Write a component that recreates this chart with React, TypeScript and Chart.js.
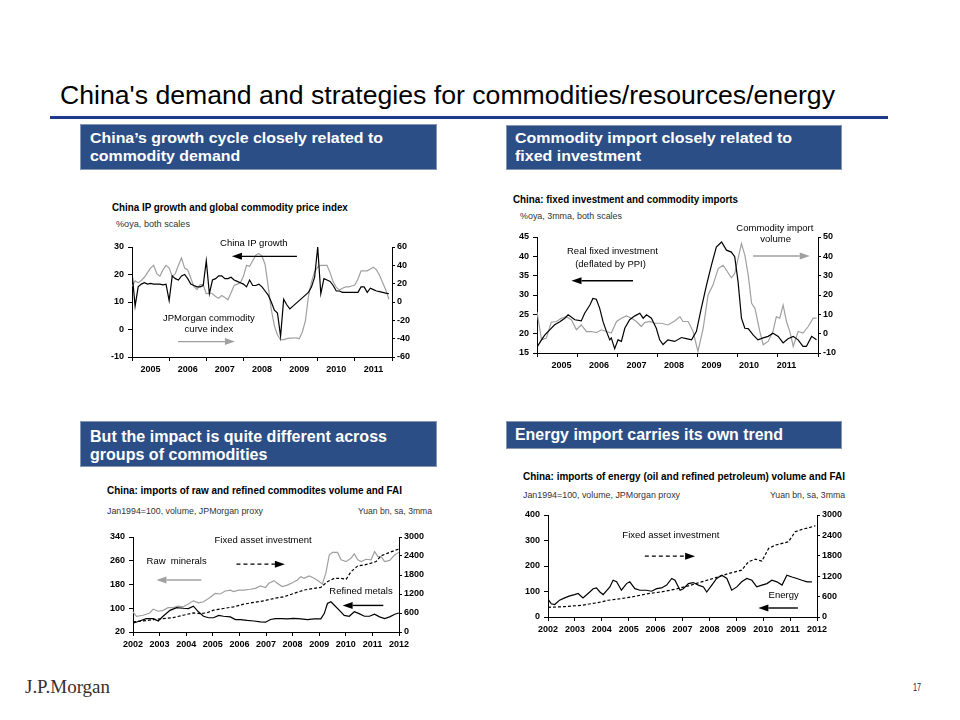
import React, { useEffect, useRef } from "react";
import { Chart, registerables } from "chart.js";

Chart.register(...registerables);

/* ============ DATA ============ */

// Chart 1: China IP growth (%oya, left) and JPMorgan commodity curve index (%oya, right), monthly from Jan 2005
const c1Start = 2005;
const ipGrowth = [
  21, 8.5, 15.5, 16.5, 17, 16.5, 16.8, 16.5, 16.5, 16.5, 16.2, 16.5,
  10.5, 19.5, 18.5, 18, 19.5, 20, 18.5, 16.5, 16, 15.5, 15.5, 16,
  25, 13, 18, 18.5, 19.5, 19.5, 18.5, 18.5, 19, 18, 17.5, 17,
  16.5, 15.5, 18, 16, 16, 16.5, 15.5, 14, 12.5, 10, 7, 6,
  -2.5, 11, 9, 7.5, 8.5, 9.5, 10.5, 11.5, 12.5, 13.5, 15.5, 19,
  30, 13, 18.5, 18, 17.5, 16, 14, 14, 13.5, 13.5, 13.5, 13.5,
  13.5, 13.5, 15.5, 15.5, 13.5, 15, 14.5, 14, 13.8, 13.5, 13.2, 13,
];
const commodityCurve = [
  17, 23, 21, 23.5, 27, 32, 37, 40, 31, 28, 35, 40,
  37, 28, 31, 40, 48, 37, 35, 26, 17, 13.5, 19, 19,
  9, 10, 9, 6, 4, 7, 5, 2.5, 10, 18, 19.5, 21,
  28, 40, 39, 45, 51, 53, 50, 41, 17, -8, -26, -36,
  -41, -41, -40, -39.5, -39.5, -39, -40, -33, -21, 6, 22, 33,
  38, 40, 40, 40, 32, 22, 16, 13, 15, 16.5, 16.5, 17.5,
  18.5, 25, 34, 34, 34, 36, 38, 35, 29, 21, 13, 3,
];
const c1LabelYears = [2005.5, 2006.5, 2007.5, 2008.5, 2009.5, 2010.5, 2011.5];
const c1MarkYears = [2005, 2006, 2007, 2008, 2009, 2010, 2011, 2012];

// Chart 2: real fixed investment (left) and commodity import volume (right), %oya 3mma
const realFaiYears = [2004.35, 2004.47, 2004.56, 2004.69, 2004.82, 2004.96, 2005.09, 2005.18, 2005.36, 2005.53, 2005.62, 2005.76, 2005.84, 2005.93, 2006.02, 2006.11, 2006.2, 2006.29, 2006.33, 2006.42, 2006.51, 2006.6, 2006.69, 2006.82, 2006.96, 2007.09, 2007.18, 2007.27, 2007.4, 2007.53, 2007.62, 2007.71, 2007.84, 2008.02, 2008.2, 2008.33, 2008.47, 2008.6, 2008.73, 2008.87, 2009.0, 2009.13, 2009.27, 2009.4, 2009.53, 2009.62, 2009.71, 2009.8, 2009.89, 2009.98, 2010.11, 2010.24, 2010.38, 2010.51, 2010.64, 2010.78, 2010.91, 2011.04, 2011.18, 2011.31, 2011.44, 2011.53, 2011.67, 2011.8];
const realFaiValues = [16.5, 18.4, 19.7, 21, 22.3, 23.1, 24, 24.9, 23.6, 23.3, 25.3, 27.4, 29.1, 28.9, 26.6, 23.1, 20.6, 18.4, 18.9, 16.1, 18.4, 18, 21.4, 23.6, 24.6, 25.3, 24, 24.9, 24, 21.4, 18.4, 17.2, 18.4, 18, 19, 18.7, 18.4, 20.6, 26.6, 32.6, 37.7, 42.4, 43.7, 41.6, 41.1, 39.9, 33.4, 24, 21.4, 21.3, 19.7, 18.4, 18.9, 19.3, 20.1, 19.3, 17.6, 18.7, 19.3, 18.4, 16.7, 16.7, 19.3, 18.4];
const commodityImportYears = [2004.35, 2004.47, 2004.6, 2004.73, 2004.87, 2005.0, 2005.13, 2005.27, 2005.4, 2005.53, 2005.67, 2005.8, 2005.93, 2006.07, 2006.2, 2006.33, 2006.47, 2006.6, 2006.73, 2006.87, 2007.0, 2007.13, 2007.22, 2007.36, 2007.49, 2007.67, 2007.84, 2008.02, 2008.16, 2008.24, 2008.38, 2008.51, 2008.64, 2008.78, 2008.91, 2009.04, 2009.18, 2009.31, 2009.4, 2009.53, 2009.62, 2009.71, 2009.8, 2009.89, 2009.98, 2010.07, 2010.16, 2010.29, 2010.38, 2010.51, 2010.64, 2010.73, 2010.82, 2010.91, 2011.0, 2011.09, 2011.18, 2011.31, 2011.44, 2011.58, 2011.71, 2011.8];
const commodityImportValues = [11.4, -3.2, -2.3, 5.9, 6.3, 8, 8.8, 7.1, 2, 4.5, 1.1, 1.1, 0.5, 2, 1.1, 0.3, 6.3, 8, 9.2, 8, 6.3, 3.7, 5.7, 6.3, 5.4, 5.4, 4.5, 6.6, 8.8, 6.3, 6.3, 1.1, -9.2, 2.8, 20, 25.1, 33.7, 35.4, 32.8, 28.9, 31.1, 38.8, 46.6, 40.6, 30.3, 15.7, 13.1, 1.1, -5.7, -4, 1.1, 8.8, 8, 14.8, 6.3, 1.1, -6.6, 1.1, 0.3, 3.7, 8, 8];
const c2LabelYears = [2005, 2006, 2007, 2008, 2009, 2010, 2011];
const c2MarkYears = [2004.35, 2005.42, 2006.49, 2007.56, 2008.63, 2009.7, 2010.77, 2011.84];

// Chart 3: raw minerals, refined metals (Jan1994=100, left), FAI (Yuan bn, right)
const rawMineralYears = [2002.0, 2002.13, 2002.38, 2002.63, 2002.76, 2002.95, 2003.13, 2003.32, 2003.51, 2003.7, 2003.89, 2004.08, 2004.27, 2004.46, 2004.65, 2004.84, 2005.09, 2005.28, 2005.47, 2005.66, 2005.78, 2005.97, 2006.16, 2006.41, 2006.6, 2006.79, 2006.98, 2007.11, 2007.3, 2007.42, 2007.61, 2007.8, 2007.99, 2008.18, 2008.31, 2008.43, 2008.62, 2008.81, 2009.0, 2009.12, 2009.25, 2009.38, 2009.5, 2009.69, 2009.82, 2010.01, 2010.2, 2010.32, 2010.45, 2010.58, 2010.76, 2010.95, 2011.08, 2011.21, 2011.33, 2011.46, 2011.65, 2011.84, 2012.0];
const rawMineralValues = [88, 73, 76.5, 84, 97, 90, 93, 102, 102, 107, 105, 114, 125, 118, 122, 133, 150, 148, 158, 161, 156, 161, 161, 164, 167, 175, 170, 184, 193, 184, 173, 178, 186, 195, 206, 201, 209, 201, 190, 182, 218, 280, 288, 288, 263, 257, 269, 283, 263, 257, 265, 263, 291, 274, 274, 257, 261, 280, 288];
const refinedMetalYears = [2002.0, 2002.25, 2002.5, 2002.76, 2002.95, 2003.13, 2003.39, 2003.64, 2003.89, 2004.08, 2004.27, 2004.46, 2004.65, 2004.84, 2005.03, 2005.22, 2005.4, 2005.66, 2005.85, 2006.04, 2006.29, 2006.54, 2006.79, 2006.98, 2007.17, 2007.36, 2007.61, 2007.8, 2008.05, 2008.31, 2008.56, 2008.81, 2009.06, 2009.19, 2009.31, 2009.44, 2009.57, 2009.76, 2009.94, 2010.13, 2010.32, 2010.5, 2010.7, 2010.89, 2011.08, 2011.27, 2011.46, 2011.65, 2011.84, 2012.0];
const refinedMetalValues = [50, 57, 65, 65, 57, 73, 93, 102, 100, 99, 107, 88, 73, 68, 68, 76, 73, 71, 62, 62, 59, 57, 54, 53, 62, 65, 65, 64, 66, 64, 62, 64, 64, 82, 116, 122, 110, 93, 76, 73, 88, 82, 73, 73, 80, 71, 65, 71, 80, 84];
const fai3Years = [2002.0, 2002.38, 2002.76, 2003.13, 2003.51, 2003.89, 2004.27, 2004.52, 2004.77, 2005.03, 2005.4, 2005.78, 2006.16, 2006.54, 2006.92, 2007.3, 2007.67, 2008.05, 2008.43, 2008.81, 2009.06, 2009.31, 2009.57, 2009.82, 2010.01, 2010.2, 2010.45, 2010.7, 2010.95, 2011.14, 2011.33, 2011.58, 2011.84, 2012.0];
const fai3Values = [318, 350, 392, 424, 456, 530, 604, 583, 604, 689, 742, 795, 880, 933, 986, 1060, 1113, 1219, 1325, 1378, 1410, 1590, 1696, 1696, 1664, 1908, 2088, 2120, 2173, 2226, 2406, 2491, 2576, 2618];

// Chart 4: energy imports (Jan1994=100, left), FAI (Yuan bn, right)
const energyYears = [2002.0, 2002.12, 2002.25, 2002.43, 2002.62, 2002.81, 2002.99, 2003.12, 2003.3, 2003.49, 2003.68, 2003.8, 2003.93, 2004.05, 2004.3, 2004.42, 2004.55, 2004.73, 2004.92, 2005.04, 2005.23, 2005.42, 2005.66, 2005.85, 2006.04, 2006.22, 2006.41, 2006.6, 2006.72, 2006.91, 2007.03, 2007.22, 2007.4, 2007.59, 2007.78, 2007.9, 2008.09, 2008.27, 2008.46, 2008.65, 2008.83, 2009.02, 2009.2, 2009.39, 2009.58, 2009.76, 2009.95, 2010.14, 2010.32, 2010.51, 2010.7, 2010.88, 2011.07, 2011.25, 2011.44, 2011.63, 2011.81];
const energyValues = [70, 52, 49, 66, 75, 83, 88, 92, 75, 92, 111, 114, 98, 88, 118, 144, 138, 105, 131, 138, 111, 105, 105, 101, 111, 114, 125, 151, 144, 105, 111, 131, 135, 125, 118, 98, 125, 151, 164, 151, 105, 118, 138, 151, 144, 118, 125, 131, 144, 138, 125, 164, 157, 151, 144, 138, 138];
const fai4Years = [2002.0, 2002.62, 2003.24, 2003.86, 2004.24, 2004.73, 2005.11, 2005.73, 2006.22, 2006.72, 2007.22, 2007.71, 2008.21, 2008.71, 2009.2, 2009.45, 2009.7, 2009.95, 2010.2, 2010.45, 2010.7, 2010.94, 2011.19, 2011.44, 2011.69, 2011.94];
const fai4Values = [285, 305, 344, 423, 492, 541, 590, 689, 738, 816, 915, 1033, 1151, 1279, 1377, 1623, 1702, 1643, 2016, 2115, 2164, 2213, 2508, 2577, 2626, 2685];

const decadeYears = [2002, 2003, 2004, 2005, 2006, 2007, 2008, 2009, 2010, 2011, 2012];

/* ============ FONTS / TEXT ============ */

const SANS = '"Liberation Sans", Arial, Helvetica, sans-serif';
const NARROW = '"Liberation Sans Narrow", "Arial Narrow", "Liberation Sans", Arial, sans-serif';
const SERIF = '"Liberation Serif", "Times New Roman", "DejaVu Serif", serif';

let mctx: CanvasRenderingContext2D | null = null;
function textWidth(text: string, font: string): number {
  if (!mctx) mctx = document.createElement("canvas").getContext("2d");
  if (!mctx) return 100;
  mctx.font = font;
  return mctx.measureText(text).width;
}
let narrowCache: boolean | null = null;
function narrowAvailable(): boolean {
  if (narrowCache === null) {
    const s = "mmmmwwwwiiii 2005 Fixed";
    narrowCache =
      Math.abs(textWidth(s, "40px monospace") - textWidth(s, '40px "Liberation Sans Narrow", monospace')) > 0.5;
  }
  return narrowCache;
}

type TxtProps = {
  x: number; y: number; lines: string[]; size: number; bold?: boolean;
  color?: string; fit?: number; family: string; gap?: number;
};
function Txt({ x, y, lines, size, bold, color = "#000", fit, family, gap = 0 }: TxtProps) {
  const font = `${bold ? "bold " : ""}${size}px ${family}`;
  const sx = fit ? fit / textWidth(lines[0], font) : 1;
  return (
    <>
      {lines.map((t, i) => (
        <div
          key={i}
          style={{
            position: "absolute", left: x, top: y + i * gap - size * 0.62,
            fontFamily: family, fontSize: size, fontWeight: bold ? 700 : 400,
            lineHeight: `${size * 1.2}px`, color, whiteSpace: "pre",
            transform: `scaleX(${sx})`, transformOrigin: "0 0",
          }}
        >
          {t}
        </div>
      ))}
    </>
  );
}

/* ============ CHART ============ */

type Series = { xs: number[]; ys: number[]; color: string; dash?: number[]; axis: "yL" | "yR" };
type Range = { min: number; max: number; step: number };
type Ann =
  | { kind: "text"; x: number; y: number; text: string }
  | { kind: "arrow"; x1: number; x2: number; y: number; color: string; dash?: number[]; head: "left" | "right" };
type Spec = {
  box: { left: number; top: number; width: number; height: number };
  pad: { l: number; r: number; t: number; b: number };
  x: { min: number; max: number; labels: number[]; marks: number[] };
  yL: Range; yR: Range; series: Series[]; anns: Ann[];
};

const BLACK = "#000000";
const GRAY = "#a0a0a0";

function LineChart({ spec }: { spec: Spec }) {
  const ref = useRef<HTMLCanvasElement>(null);
  useEffect(() => {
    const canvas = ref.current;
    if (!canvas) return;
    const narrow = narrowAvailable();
    const tickFont = narrow
      ? { family: NARROW, size: 10, weight: "bold" as const }
      : { family: SANS, size: 9, weight: "bold" as const };
    const near = (a: number, list: number[]) => list.some((v) => Math.abs(v - a) < 1e-4);
    const allTicks = [...spec.x.labels, ...spec.x.marks]
      .sort((a, b) => a - b)
      .filter((v, i, arr) => i === 0 || Math.abs(v - arr[i - 1]) > 1e-4);

    const annPlugin = {
      id: "slideAnnotations",
      afterDatasetsDraw(chart: any) {
        const ctx: CanvasRenderingContext2D = chart.ctx;
        const xs = chart.scales.x;
        const ys = chart.scales.yL;
        ctx.save();
        for (const a of spec.anns) {
          if (a.kind === "text") {
            ctx.font = `9.5px ${SANS}`;
            ctx.fillStyle = "#000";
            ctx.textAlign = "center";
            ctx.textBaseline = "middle";
            ctx.fillText(a.text, xs.getPixelForValue(a.x), ys.getPixelForValue(a.y));
          } else {
            const p1 = xs.getPixelForValue(a.x1);
            const p2 = xs.getPixelForValue(a.x2);
            const py = ys.getPixelForValue(a.y);
            const tip = a.head === "left" ? p1 : p2;
            const tail = a.head === "left" ? p2 : p1;
            const dir = a.head === "left" ? -1 : 1;
            const base = tip - dir * 10;
            ctx.strokeStyle = a.color;
            ctx.lineWidth = 1.4;
            ctx.setLineDash(a.dash ?? []);
            ctx.beginPath();
            ctx.moveTo(tail, py);
            ctx.lineTo(base, py);
            ctx.stroke();
            ctx.setLineDash([]);
            ctx.fillStyle = a.color;
            ctx.beginPath();
            ctx.moveTo(tip, py);
            ctx.lineTo(base, py - 3.5);
            ctx.lineTo(base, py + 3.5);
            ctx.closePath();
            ctx.fill();
          }
        }
        ctx.restore();
      },
    };

    const yAxis = (pos: "left" | "right", r: Range, w: number) => ({
      type: "linear" as const,
      position: pos,
      min: r.min,
      max: r.max,
      ticks: {
        stepSize: r.step,
        font: tickFont,
        color: "#000",
        padding: pos === "left" ? 4 : 2,
        autoSkip: false,
        callback: (v: any) => String(v),
      },
      grid: { drawOnChartArea: false, drawTicks: true, tickLength: pos === "left" ? 4 : 3, color: "#000", lineWidth: 1 },
      border: { display: true, color: "#000", width: 1 },
      afterFit: (s: any) => { s.width = w; },
    });

    const chart = new Chart(canvas, {
      type: "line",
      data: {
        datasets: spec.series.map((s) => ({
          data: s.xs.map((x, i) => ({ x, y: s.ys[i] })),
          borderColor: s.color,
          borderWidth: 1.2,
          borderDash: s.dash ?? [],
          pointRadius: 0,
          tension: 0,
          fill: false,
          yAxisID: s.axis,
        })),
      },
      options: {
        responsive: false,
        animation: false,
        events: [],
        layout: { padding: { top: spec.pad.t, left: 0, right: 0, bottom: 0 }, autoPadding: false },
        plugins: { legend: { display: false }, tooltip: { enabled: false } },
        scales: {
          x: {
            type: "linear",
            min: spec.x.min,
            max: spec.x.max,
            afterBuildTicks: (s: any) => { s.ticks = allTicks.map((v) => ({ value: v })); },
            ticks: {
              autoSkip: false, maxRotation: 0, minRotation: 0, font: tickFont, color: "#000", padding: 3,
              callback: (v: any) => (near(Number(v), spec.x.labels) ? String(Math.floor(Number(v) + 1e-6)) : ""),
            },
            grid: {
              drawOnChartArea: false, drawTicks: true, tickLength: 4, lineWidth: 1,
              color: (c: any) => (c.tick && near(c.tick.value, spec.x.marks) ? "#000" : "rgba(0,0,0,0)"),
            },
            border: { display: true, color: "#000", width: 1 },
            afterFit: (s: any) => { s.height = spec.pad.b; },
          },
          yL: yAxis("left", spec.yL, spec.pad.l),
          yR: yAxis("right", spec.yR, spec.pad.r),
        },
      } as any,
      plugins: [annPlugin],
    });
    return () => chart.destroy();
  }, [spec]);
  const { left, top, width, height } = spec.box;
  return (
    <canvas ref={ref} width={width} height={height}
      style={{ position: "absolute", left, top, width, height }} />
  );
}

/* ============ SPECS ============ */

const monthly = (start: number, n: number) => Array.from({ length: n }, (_, i) => start + i / 12);

const chart1: Spec = {
  box: { left: 95, top: 236, width: 330, height: 150 },
  pad: { l: 37, r: 33, t: 11, b: 29 },
  x: { min: 2005, max: 2012, labels: c1LabelYears, marks: c1MarkYears },
  yL: { min: -10, max: 30, step: 10 },
  yR: { min: -60, max: 60, step: 20 },
  series: [
    { xs: monthly(c1Start, ipGrowth.length), ys: ipGrowth, color: BLACK, axis: "yL" },
    { xs: monthly(c1Start, commodityCurve.length), ys: commodityCurve, color: GRAY, axis: "yR" },
  ],
  anns: [
    { kind: "text", x: 2008.28, y: 31.3, text: "China IP growth" },
    { kind: "arrow", x1: 2007.69, x2: 2009.44, y: 26.6, color: BLACK, head: "left" },
    { kind: "text", x: 2007.07, y: 4.1, text: "JPMorgan commodity" },
    { kind: "text", x: 2007.07, y: -0.1, text: "curve index" },
    { kind: "arrow", x1: 2006.24, x2: 2007.77, y: -4.4, color: GRAY, head: "right" },
  ],
};

const chart2: Spec = {
  box: { left: 505, top: 218, width: 345, height: 163 },
  pad: { l: 32, r: 32, t: 19, b: 28 },
  x: { min: 2004.35, max: 2011.84, labels: c2LabelYears, marks: c2MarkYears },
  yL: { min: 15, max: 45, step: 5 },
  yR: { min: -10, max: 50, step: 10 },
  series: [
    { xs: realFaiYears, ys: realFaiValues, color: BLACK, axis: "yL" },
    { xs: commodityImportYears, ys: commodityImportValues, color: GRAY, axis: "yR" },
  ],
  anns: [
    { kind: "text", x: 2010.69, y: 47.2, text: "Commodity import" },
    { kind: "text", x: 2010.71, y: 44.3, text: "volume" },
    { kind: "arrow", x1: 2010.11, x2: 2011.62, y: 40.1, color: GRAY, head: "right" },
    { kind: "text", x: 2006.36, y: 41.3, text: "Real fixed investment" },
    { kind: "text", x: 2006.31, y: 37.9, text: "(deflated by PPI)" },
    { kind: "arrow", x1: 2005.27, x2: 2006.91, y: 33.7, color: BLACK, head: "left" },
  ],
};

const chart3: Spec = {
  box: { left: 100, top: 527, width: 345, height: 135 },
  pad: { l: 33, r: 46, t: 10, b: 30 },
  x: { min: 2002, max: 2012, labels: decadeYears, marks: decadeYears },
  yL: { min: 20, max: 340, step: 80 },
  yR: { min: 0, max: 3000, step: 600 },
  series: [
    { xs: refinedMetalYears, ys: refinedMetalValues, color: BLACK, axis: "yL" },
    { xs: fai3Years, ys: fai3Values, color: BLACK, dash: [3, 2], axis: "yR" },
    { xs: rawMineralYears, ys: rawMineralValues, color: GRAY, axis: "yL" },
  ],
  anns: [
    { kind: "text", x: 2006.89, y: 328.5, text: "Fixed asset investment" },
    { kind: "arrow", x1: 2005.89, x2: 2007.71, y: 248.5, color: BLACK, dash: [4, 3], head: "right" },
    { kind: "text", x: 2003.64, y: 257.3, text: "Raw  minerals" },
    { kind: "arrow", x1: 2002.88, x2: 2004.57, y: 195.3, color: GRAY, head: "left" },
    { kind: "text", x: 2010.57, y: 155.6, text: "Refined metals" },
    { kind: "arrow", x1: 2009.88, x2: 2011.41, y: 109.5, color: BLACK, head: "left" },
  ],
};

const chart4: Spec = {
  box: { left: 515, top: 505, width: 345, height: 140 },
  pad: { l: 33, r: 43, t: 10, b: 28 },
  x: { min: 2002, max: 2012, labels: decadeYears, marks: decadeYears },
  yL: { min: 0, max: 400, step: 100 },
  yR: { min: 0, max: 3000, step: 600 },
  series: [
    { xs: energyYears, ys: energyValues, color: BLACK, axis: "yL" },
    { xs: fai4Years, ys: fai4Values, color: BLACK, dash: [3, 2], axis: "yR" },
  ],
  anns: [
    { kind: "text", x: 2006.57, y: 318.6, text: "Fixed asset investment" },
    { kind: "arrow", x1: 2005.6, x2: 2007.47, y: 238.7, color: BLACK, dash: [4, 3], head: "right" },
    { kind: "text", x: 2010.76, y: 85.3, text: "Energy" },
    { kind: "arrow", x1: 2009.82, x2: 2011.29, y: 35.3, color: BLACK, head: "left" },
  ],
};

/* ============ APP ============ */

const BOX_BG = "#2c4e86";
const BOX_BORDER = "1px solid #8796b0";

function Box({ left, top, width, height }: { left: number; top: number; width: number; height: number }) {
  return (
    <div style={{ position: "absolute", left, top, width, height, background: BOX_BG, border: BOX_BORDER, boxSizing: "border-box" }} />
  );
}

export default function App() {
  const narrowFam = narrowAvailable() ? NARROW : SANS;
  return (
    <div style={{ position: "absolute", left: 0, top: 0, width: 960, height: 720, background: "#fff", overflow: "hidden" }}>
      <Txt x={60} y={96} lines={["China's demand and strategies for commodities/resources/energy"]} size={26} fit={775} family={SANS} />
      <div style={{ position: "absolute", left: 50, top: 116, width: 838, height: 3, background: "#1f3a8a" }} />

      <Box left={80} top={124} width={357} height={46} />
      <Txt x={90} y={138.5} gap={17.5} lines={["China\u2019s growth cycle closely related to", "commodity demand"]} size={15} bold color="#fff" fit={293} family={SANS} />
      <Box left={506} top={125} width={336} height={45} />
      <Txt x={515} y={138.5} gap={17.5} lines={["Commodity import closely related to", "fixed investment"]} size={15} bold color="#fff" fit={277} family={SANS} />
      <Box left={80} top={421} width={357} height={46} />
      <Txt x={90} y={437} gap={18} lines={["But the impact is quite different across", "groups of commodities"]} size={16} bold color="#fff" fit={297} family={narrowFam} />
      <Box left={506} top={421} width={336} height={28} />
      <Txt x={515} y={434.5} lines={["Energy import carries its own trend"]} size={16} bold color="#fff" fit={268} family={narrowFam} />

      <Txt x={112} y={208} lines={["China IP growth and global commodity price index"]} size={11} bold fit={236} family={narrowFam} />
      <Txt x={116} y={224} lines={["%oya, both scales"]} size={9.5} color="#333" fit={74} family={SANS} />
      <Txt x={513} y={200} lines={["China: fixed investment and commodity imports"]} size={11} bold fit={225} family={narrowFam} />
      <Txt x={520} y={216} lines={["%oya, 3mma, both scales"]} size={9.5} color="#333" fit={102} family={SANS} />
      <Txt x={107} y={491} lines={["China: imports of raw and refined commodites volume and FAI"]} size={11} bold fit={295} family={narrowFam} />
      <Txt x={107} y={511} lines={["Jan1994=100, volume, JPMorgan proxy"]} size={9.5} color="#333" fit={156} family={SANS} />
      <Txt x={358} y={511} lines={["Yuan bn, sa, 3mma"]} size={9.5} color="#333" fit={74} family={SANS} />
      <Txt x={523} y={477} lines={["China: imports of energy (oil and refined petroleum) volume and FAI"]} size={11} bold fit={322} family={narrowFam} />
      <Txt x={523} y={495} lines={["Jan1994=100, volume, JPMorgan proxy"]} size={9.5} color="#333" fit={157} family={SANS} />
      <Txt x={770} y={495} lines={["Yuan bn, sa, 3mma"]} size={9.5} color="#333" fit={75} family={SANS} />

      <LineChart spec={chart1} />
      <LineChart spec={chart2} />
      <LineChart spec={chart3} />
      <LineChart spec={chart4} />

      <Txt x={25} y={688} lines={["J.P.Morgan"]} size={18} color="#3b2d26" fit={85} family={SERIF} />
      <Txt x={913} y={688} lines={["17"]} size={10} color="#222" fit={8} family={narrowFam} />
    </div>
  );
}
